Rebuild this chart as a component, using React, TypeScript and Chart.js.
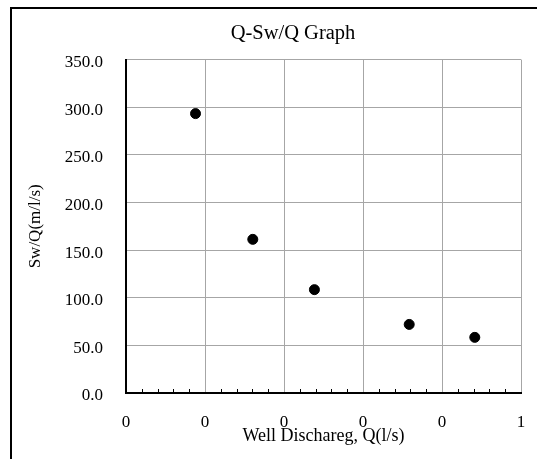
import React, { useEffect, useRef } from "react";
import { Chart, registerables } from "chart.js";

Chart.register(...registerables);

const DISCHARGE = [0.176, 0.321, 0.477, 0.717, 0.883];
const SW_OVER_Q = [293.3, 161.3, 108.5, 72.0, 58.4];
const X_TICK_LABELS = ["0", "0", "0", "0", "0", "1"];
const Y_MIN = 0;
const Y_MAX = 350;
const Y_STEP = 50;
const X_MIN = 0;
const X_MAX = 1;
const X_STEP = 0.2;
const X_MINOR_STEP = 0.04;

const FONT = "'Liberation Serif', 'Times New Roman', serif";
const GRID = "#a6a6a6";

const minorTicks = {
  id: "minorTicks",
  afterDraw(chart: any) {
    const xs = chart.scales.x;
    const { ctx, chartArea } = chart;
    ctx.save();
    ctx.strokeStyle = "#000";
    ctx.lineWidth = 1;
    const n = Math.round((X_MAX - X_MIN) / X_MINOR_STEP);
    const per = Math.round(X_STEP / X_MINOR_STEP);
    for (let i = 1; i < n; i++) {
      if (i % per === 0) continue;
      const px = Math.round(xs.getPixelForValue(X_MIN + i * X_MINOR_STEP)) + 0.5;
      ctx.beginPath();
      ctx.moveTo(px, chartArea.bottom);
      ctx.lineTo(px, chartArea.bottom - 4);
      ctx.stroke();
    }
    ctx.restore();
  },
};

export default function App() {
  const ref = useRef<HTMLCanvasElement>(null);
  useEffect(() => {
    if (!ref.current) return;
    const chart = new Chart(ref.current, {
      type: "scatter",
      data: {
        datasets: [
          {
            data: DISCHARGE.map((x, i) => ({ x, y: SW_OVER_Q[i] })),
            backgroundColor: "#000",
            borderColor: "#000",
            pointRadius: 5,
            pointHoverRadius: 5,
          },
        ],
      },
      plugins: [minorTicks],
      options: {
        animation: false,
        responsive: false,
        devicePixelRatio: 1,
        layout: { padding: 0 },
        plugins: {
          legend: { display: false },
          tooltip: { enabled: false },
          title: {
            display: true,
            text: "Q-Sw/Q Graph",
            color: "#000",
            font: { family: FONT, size: 20.5, weight: "normal" },
            padding: { top: 21, bottom: 14 },
          },
        },
        scales: {
          x: {
            type: "linear",
            position: "bottom",
            min: X_MIN,
            max: X_MAX,
            afterFit: (s: any) => {
              s.height = 66;
            },
            ticks: {
              stepSize: X_STEP,
              color: "#000",
              font: { family: FONT, size: 17 },
              padding: 19,
              maxRotation: 0,
              callback: (_v: any, i: number) => X_TICK_LABELS[i],
            },
            grid: { color: GRID, lineWidth: 1, drawTicks: false },
            border: { color: "#000", width: 2 },
            title: {
              display: true,
              text: "Well Dischareg, Q(l/s)",
              color: "#000",
              font: { family: FONT, size: 18 },
              padding: { top: 0, bottom: 12 },
            },
          },
          y: {
            type: "linear",
            position: "left",
            min: Y_MIN,
            max: Y_MAX,
            afterFit: (s: any) => {
              s.width = 126;
            },
            ticks: {
              stepSize: Y_STEP,
              color: "#000",
              font: { family: FONT, size: 17 },
              padding: 23,
              labelOffset: 3,
              callback: (v: any) => Number(v).toFixed(1),
            },
            grid: { color: GRID, lineWidth: 1, drawTicks: false },
            border: { color: "#000", width: 2 },
            title: {
              display: true,
              text: "Sw/Q(m/l/s)",
              color: "#000",
              font: { family: FONT, size: 17 },
              padding: { top: 25, bottom: 0 },
            },
          },
          spacer: {
            type: "linear",
            position: "right",
            display: true,
            afterFit: (s: any) => {
              s.width = 65;
            },
            ticks: { display: false },
            grid: { display: false, drawTicks: false },
            border: { display: false },
          },
        },
      },
    });
    return () => chart.destroy();
  }, []);

  return (
    <div
      style={{
        position: "fixed",
        left: 0,
        top: 0,
        width: 537,
        height: 459,
        overflow: "hidden",
        background: "#fff",
      }}
    >
      <div
        style={{
          position: "absolute",
          left: 10,
          top: 7,
          width: 700,
          height: 700,
          borderLeft: "2px solid #000",
          borderTop: "2px solid #000",
        }}
      />
      <canvas
        ref={ref}
        width={586}
        height={459}
        style={{ position: "absolute", left: 0, top: 0, width: 586, height: 459 }}
      />
    </div>
  );
}
